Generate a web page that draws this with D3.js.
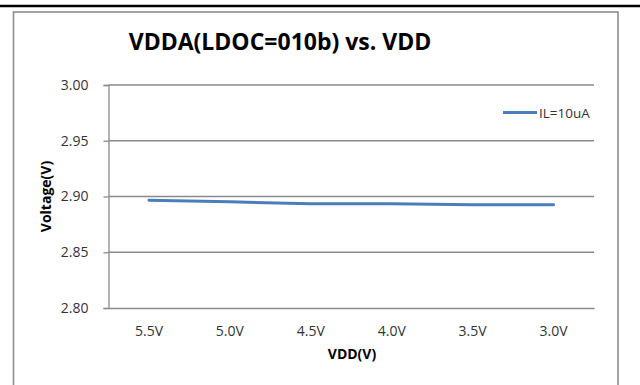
<!DOCTYPE html>
<html>
<head>
<meta charset="utf-8">
<script src="https://cdn.jsdelivr.net/npm/d3@7"></script>
<style>
  html, body { margin: 0; padding: 0; background: #fff; }
  svg { display: block; }
  text { font-family: "Open Sans", "Liberation Sans", sans-serif; }
</style>
</head>
<body>
<svg id="chart" width="640" height="385"></svg>
<script>
// Supply voltage sweep (category axis) and measured VDDA output
const categories = ["5.5V", "5.0V", "4.5V", "4.0V", "3.5V", "3.0V"];
const vddaValues = [2.8966, 2.8952, 2.8936, 2.8934, 2.8927, 2.8926];
const yTicks = [2.80, 2.85, 2.90, 2.95, 3.00];
const seriesName = "IL=10uA";
const chartTitle = "VDDA(LDOC=010b) vs. VDD";
const xTitle = "VDD(V)";
const yTitle = "Voltage(V)";

const svg = d3.select("#chart");
const plot = { left: 108.5, right: 594, top: 85, bottom: 308 };

// Page rule above the chart
svg.append("line")
  .attr("x1", 0).attr("x2", 640).attr("y1", 6).attr("y2", 6)
  .attr("stroke", "#000").attr("stroke-width", 2.5);

// Chart frame
svg.append("rect")
  .attr("x", 13.5).attr("y", 12).attr("width", 604.5).attr("height", 400)
  .attr("fill", "#fff").attr("stroke", "#8c8c8c").attr("stroke-width", 1.6);

const x = d3.scaleBand().domain(categories).range([plot.left, plot.right]);
const y = d3.scaleLinear().domain([2.80, 3.00]).range([plot.bottom, plot.top]);

// Horizontal gridlines
svg.append("g").selectAll("line").data(yTicks.filter(t => t > 2.80)).join("line")
  .attr("x1", plot.left).attr("x2", plot.right)
  .attr("y1", d => y(d)).attr("y2", d => y(d))
  .attr("stroke", "#8a8a8a").attr("stroke-width", 1.3);

// Y axis
const yAxis = svg.append("g")
  .attr("transform", `translate(${plot.left},0)`)
  .call(d3.axisLeft(y).tickValues(yTicks).tickFormat(d3.format(".2f")).tickSize(5).tickPadding(15));
yAxis.select(".domain").attr("stroke", "#8a8a8a").attr("stroke-width", 1.3);
yAxis.selectAll(".tick line").attr("stroke", "#8a8a8a").attr("stroke-width", 1.3);
yAxis.selectAll(".tick text").attr("font-size", 14).attr("fill", "#333");

// X axis
const xAxis = svg.append("g")
  .attr("transform", `translate(0,${plot.bottom})`)
  .call(d3.axisBottom(x).tickSize(0).tickPadding(18));
xAxis.select(".domain").attr("stroke", "#8a8a8a").attr("stroke-width", 1.3);
xAxis.selectAll(".tick text").attr("font-size", 14).attr("fill", "#333");

// Data line
const line = d3.line()
  .x((d, i) => x(categories[i]) + x.bandwidth() / 2)
  .y(d => y(d));
svg.append("path")
  .datum(vddaValues)
  .attr("d", line)
  .attr("fill", "none")
  .attr("stroke", "#4a7ebb")
  .attr("stroke-width", 3)
  .attr("stroke-linecap", "round");

// Legend
svg.append("line")
  .attr("x1", 503).attr("x2", 537).attr("y1", 112.5).attr("y2", 112.5)
  .attr("stroke", "#4a7ebb").attr("stroke-width", 3);
svg.append("text")
  .attr("x", 539).attr("y", 117.5)
  .attr("font-size", 13.5).attr("fill", "#333")
  .text(seriesName);

// Titles
svg.append("text")
  .attr("x", 280).attr("y", 50)
  .attr("text-anchor", "middle")
  .attr("font-size", 23).attr("font-weight", "bold").attr("fill", "#000")
  .text(chartTitle);

svg.append("text")
  .attr("x", 352).attr("y", 359)
  .attr("text-anchor", "middle")
  .attr("font-size", 14).attr("font-weight", "bold").attr("fill", "#000")
  .text(xTitle);

svg.append("text")
  .attr("transform", `translate(51,${(plot.top + plot.bottom) / 2}) rotate(-90)`)
  .attr("text-anchor", "middle")
  .attr("font-size", 14).attr("font-weight", "bold").attr("fill", "#000")
  .text(yTitle);
</script>
</body>
</html>
